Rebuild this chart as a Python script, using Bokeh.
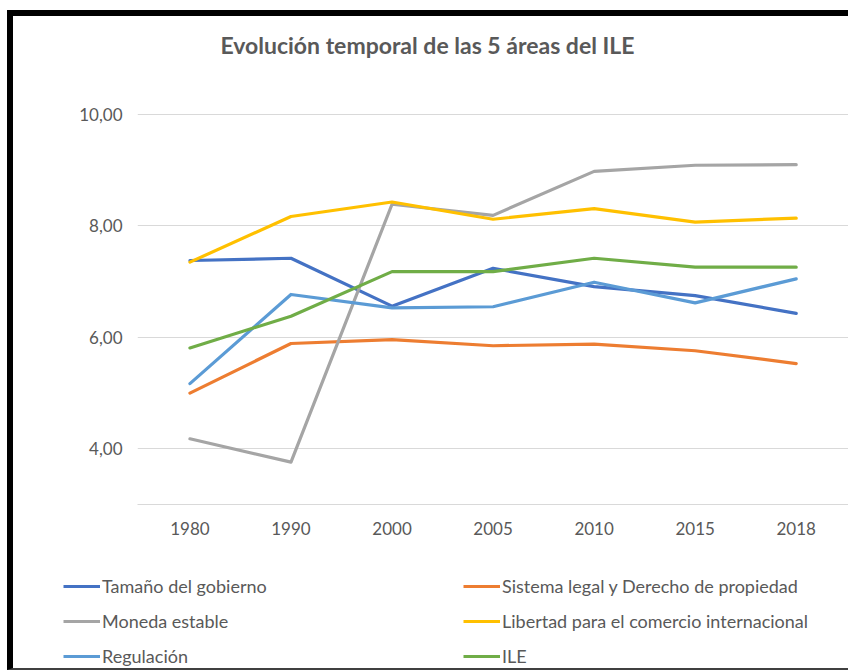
from bokeh.plotting import figure
from bokeh.models import Range1d, FixedTicker, Legend, LegendItem, Label
from bokeh.embed import file_html
from bokeh.resources import INLINE

# ---------------- data ----------------
years = ["1980", "1990", "2000", "2005", "2010", "2015", "2018"]
tamano = [7.38, 7.42, 6.56, 7.24, 6.91, 6.75, 6.43]
sistema = [5.00, 5.89, 5.96, 5.85, 5.88, 5.76, 5.53]
moneda = [4.18, 3.76, 8.39, 8.19, 8.98, 9.09, 9.10]
libertad = [7.35, 8.17, 8.43, 8.12, 8.31, 8.07, 8.14]
regulacion = [5.17, 6.77, 6.53, 6.55, 6.99, 6.62, 7.05]
ile = [5.81, 6.38, 7.18, 7.18, 7.42, 7.26, 7.26]

series_names = ["Tamaño del gobierno", "Sistema legal y Derecho de propiedad",
                "Moneda estable", "Libertad para el comercio internacional",
                "Regulación", "ILE"]
series_values = [tamano, sistema, moneda, libertad, regulacion, ile]
colors = ["#4472C4", "#ED7D31", "#A5A5A5", "#FFC000", "#5B9BD5", "#70AD47"]

y_ticks = [4, 6, 8, 10]
y_tick_labels = ["4,00", "6,00", "8,00", "10,00"]
title_text = "Evolución temporal de las 5 áreas del ILE"

# ---------------- layout constants ----------------
FONT = "Lato"
TXT = "#595959"
GRID = "#D9D9D9"

BL = 6                      # black left border width (CSS, border-box)
BT = 6                      # black top border width
BB = 2                      # bottom grey border
OX = 13                     # page x where canvases start (7px margin + 6px border)
W = 848 - OX                # canvas width
TOP = 10                    # page y of the top black bar
Y1 = 80                     # page y where the main chart starts
SPLIT = 560                 # page y where the legend strip starts
YEND = 668                  # page y of the bottom grey line
TITLE_CX, TITLE_CY = 424, 42

# page pixel geometry of the main chart
PX0 = 189.0      # page x of first category
PXU = 100.2      # px per category
PYB = 504.0      # page y of value 3
PYU = 55.71      # px per unit
YMIN = 3.0
frame_left_px, frame_top_px = 137, 106

def px2x(px):
    return (px - PX0) / PXU

def py2y(py):
    return YMIN + (PYB - py) / PYU

xs = list(range(len(years)))

# ---------------- title strip ----------------
H0 = Y1 - (TOP + BT)
t = figure(width=W + BL, height=H0 + BT, output_backend="svg", toolbar_location=None,
           x_range=Range1d(0, W), y_range=Range1d(0, H0),
           x_axis_location=None, y_axis_location=None,
           min_border=0, min_border_left=0, min_border_right=0,
           min_border_top=0, min_border_bottom=0)
t.outline_line_color = None
t.grid.visible = False
t.styles = {"margin-left": "7px", "margin-top": f"{TOP}px",
            "border-top": f"{BT}px solid black", "border-left": f"{BL}px solid black"}
t.add_layout(Label(x=TITLE_CX - OX, y=H0 - (TITLE_CY - (TOP + BT)), text=title_text,
                   text_align="center", text_baseline="middle",
                   text_font=FONT, text_font_style="bold", text_font_size="23px",
                   text_color=TXT))

# ---------------- main chart ----------------
H1 = SPLIT - Y1
frame_h = int(PYB - frame_top_px)
p = figure(width=W + BL, height=H1, output_backend="svg", toolbar_location=None,
           x_range=Range1d(px2x(frame_left_px), px2x(OX + W)),
           y_range=Range1d(YMIN, py2y(frame_top_px)),
           min_border_left=frame_left_px - OX, min_border_right=0,
           min_border_top=frame_top_px - Y1,
           min_border_bottom=H1 - (frame_top_px - Y1) - frame_h)
p.outline_line_color = None
p.background_fill_color = "white"
p.border_fill_color = "white"
p.styles = {"margin-left": "7px", "border-left": f"{BL}px solid black"}

# axes
p.xaxis.ticker = FixedTicker(ticks=xs)
p.xaxis.major_label_overrides = {i: y for i, y in zip(xs, years)}
p.xaxis.axis_line_color = GRID
p.xaxis.axis_line_width = 1
p.xaxis.major_tick_line_color = None
p.xaxis.minor_tick_line_color = None
p.xaxis.major_tick_in = 0
p.xaxis.major_tick_out = 0
p.xaxis.major_label_standoff = 17
p.xaxis.major_label_text_font = FONT
p.xaxis.major_label_text_font_size = "17px"
p.xaxis.major_label_text_color = TXT

p.yaxis.ticker = FixedTicker(ticks=y_ticks)
p.yaxis.major_label_overrides = {tk: l for tk, l in zip(y_ticks, y_tick_labels)}
p.yaxis.axis_line_color = None
p.yaxis.major_tick_line_color = None
p.yaxis.minor_tick_line_color = None
p.yaxis.major_tick_in = 0
p.yaxis.major_tick_out = 0
p.yaxis.major_label_standoff = 15
p.yaxis.major_label_text_font = FONT
p.yaxis.major_label_text_font_size = "17px"
p.yaxis.major_label_text_color = TXT

p.xgrid.visible = False
p.ygrid.ticker = FixedTicker(ticks=y_ticks)
p.ygrid.grid_line_color = GRID
p.ygrid.grid_line_width = 1

# series
for name, vals, col in zip(series_names, series_values, colors):
    p.line(xs, vals, line_color=col, line_width=3.2,
           line_cap="round", line_join="round")

# ---------------- legend strip ----------------
H2 = YEND - SPLIT
q = figure(width=W + BL, height=H2 + BB, output_backend="svg", toolbar_location=None,
           x_range=Range1d(0, 1), y_range=Range1d(0, 1),
           x_axis_location=None, y_axis_location=None,
           min_border=0, min_border_left=0, min_border_right=0,
           min_border_top=0, min_border_bottom=0)
q.outline_line_color = None
q.grid.visible = False
q.styles = {"margin-left": "7px", "border-left": f"{BL}px solid black",
            "border-bottom": f"{BB}px solid #404040"}

# legend sample renderers, kept outside the visible range
sample = [q.line([-10, -9], [-10, -10], line_color=c, line_width=3.2, line_cap="butt")
          for c in colors]

def make_legend(idx, x_page):
    return Legend(items=[LegendItem(label=series_names[i], renderers=[sample[i]]) for i in idx],
                  location=(x_page - OX, YEND - 665), orientation="vertical",
                  glyph_width=37, glyph_height=20, label_height=20, spacing=13,
                  label_standoff=2, padding=0, margin=0,
                  border_line_color=None, background_fill_alpha=0,
                  label_text_font=FONT, label_text_font_size="18px",
                  label_text_color=TXT, label_text_baseline="middle")

q.add_layout(make_legend([0, 2, 4], 63))
q.add_layout(make_legend([1, 3, 5], 463))

open("out.html", "w").write(file_html([t, p, q], INLINE))
